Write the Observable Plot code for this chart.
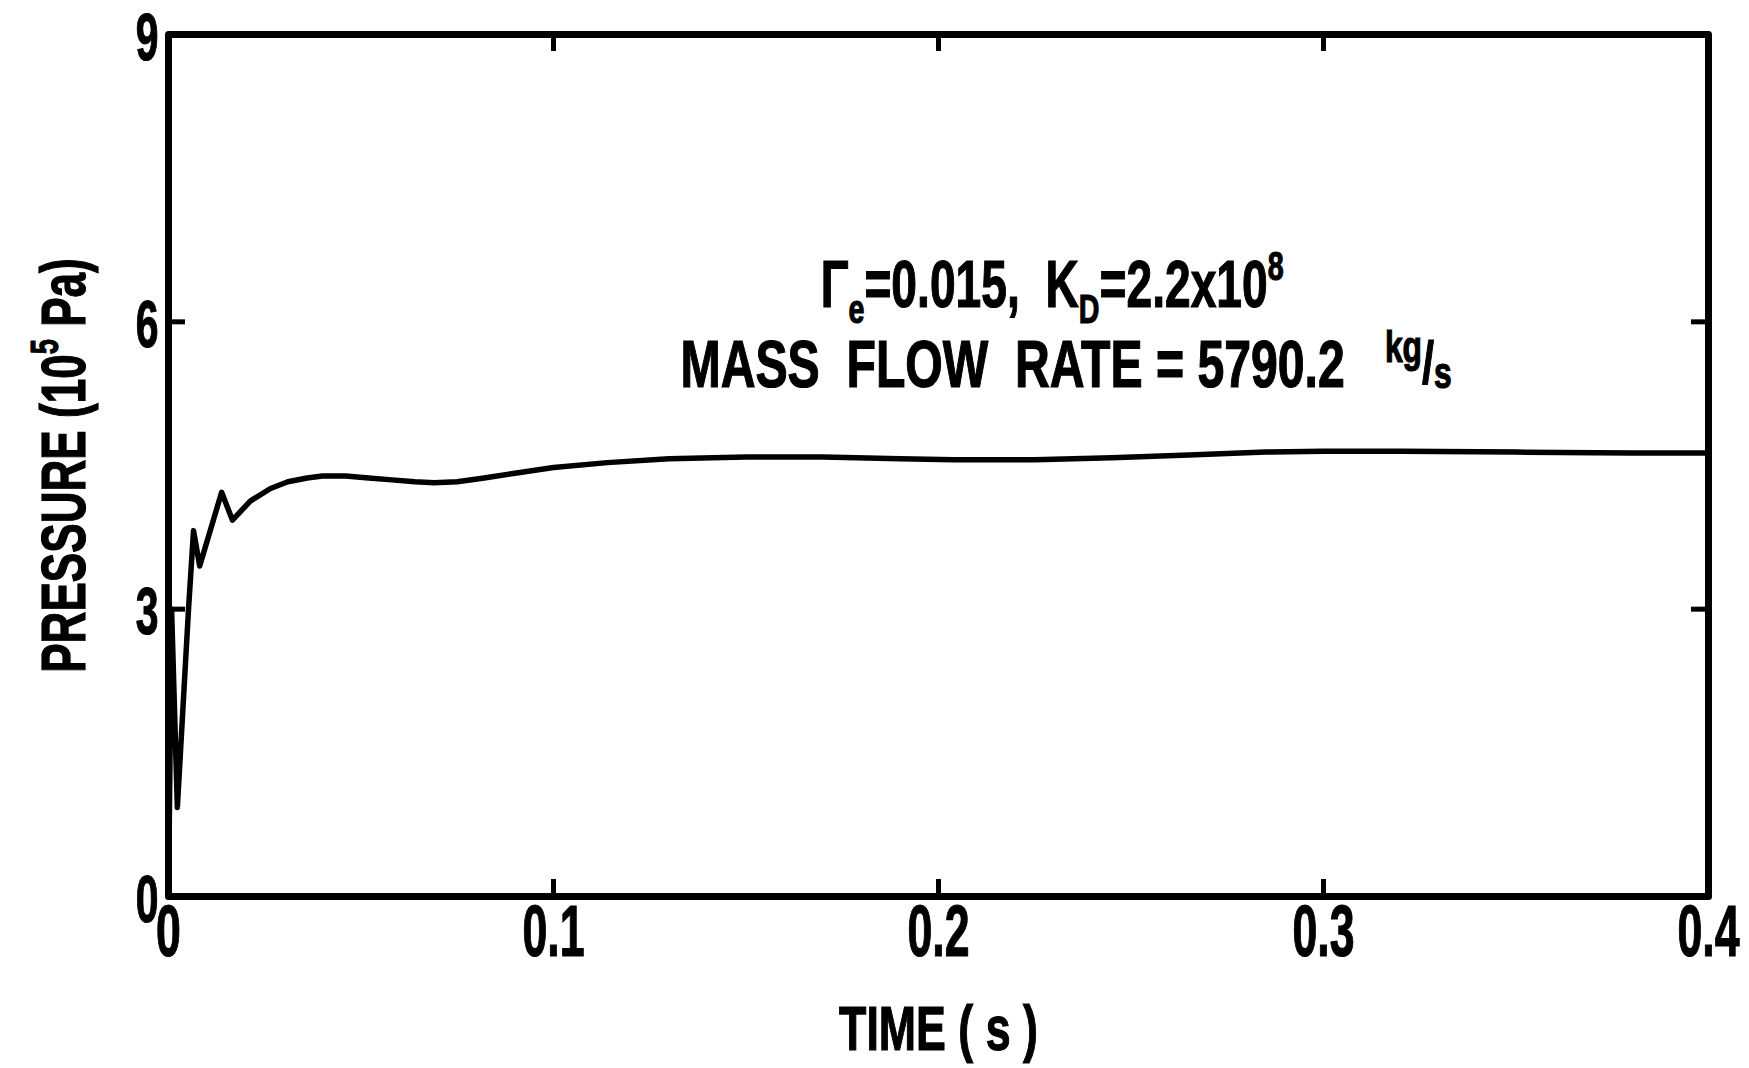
<!DOCTYPE html>
<html>
<head>
<meta charset="utf-8">
<script src="https://cdn.jsdelivr.net/npm/d3@7"></script>
<script src="https://cdn.jsdelivr.net/npm/@observablehq/plot@0.6"></script>
<style>
  body { margin: 0; background: #fff; }
  #chart svg text { font-weight: bold; white-space: pre; stroke: #000; stroke-width: 1.2px; paint-order: stroke; }
</style>
</head>
<body>
<div id="chart"></div>
<script>
// ---- data ----
const time = [0, 0.0008, 0.0023, 0.0052, 0.0065, 0.0081, 0.0138, 0.0166, 0.0213, 0.0265, 0.031, 0.036, 0.040, 0.046, 0.052, 0.058, 0.064, 0.069, 0.075, 0.082, 0.090, 0.100, 0.114, 0.130, 0.150, 0.170, 0.190, 0.204, 0.225, 0.245, 0.265, 0.285, 0.300, 0.320, 0.350, 0.380, 0.400];
const pressure = [0, 3.0, 0.93, 3.0, 3.82, 3.45, 4.22, 3.93, 4.13, 4.26, 4.33, 4.37, 4.39, 4.39, 4.37, 4.35, 4.33, 4.32, 4.33, 4.37, 4.42, 4.48, 4.53, 4.57, 4.59, 4.59, 4.57, 4.56, 4.56, 4.58, 4.61, 4.64, 4.65, 4.65, 4.64, 4.63, 4.63];

const xTicks = [0, 0.1, 0.2, 0.3, 0.4];
const xTickLabels = ["0", "0.1", "0.2", "0.3", "0.4"];
const yTicks = [0, 3, 6, 9];
const yTickLabels = ["0", "3", "6", "9"];
const innerTicksX = [0.1, 0.2, 0.3];
const innerTicksY = [3, 6];

const xTitle = "TIME ( s )";
const yTitleSegs = [["PRESSURE (10"], ["5", "sup"], [" Pa)"]];
const note1Segs = [["Γ"], ["e", "sub"], ["=0.015,  K"], ["D", "sub"], ["=2.2x10"], ["8", "sup"]];
const note2Segs = [["MASS  FLOW  RATE = 5790.2   "], ["kg", "kg"], ["/", "slash"], ["s", "s"]];
const noteX = [0.1694, 0.133];
const noteY = [6.15, 5.32];

// ---- layout ----
const W = 1749, H = 1068;
const mL = 168, mR = 41, mT = 34, mB = 172;
const frameW = W - mL - mR, frameH = H - mT - mB;
const tickLen = 17;

const plain = segs => segs.map(s => s[0]).join("");
const yTitle = plain(yTitleSegs);
const notes = [note1Segs, note2Segs].map((segs, i) => ({text: plain(segs), x: noteX[i], y: noteY[i]}));
const series = time.map((t, i) => ({t, p: pressure[i]}));

const plot = Plot.plot({
  width: W, height: H,
  marginLeft: mL, marginRight: mR, marginTop: mT, marginBottom: mB,
  style: {fontFamily: "'Liberation Sans', Arial, sans-serif", background: "#fff", color: "#000"},
  x: {domain: [0, 0.4], label: null},
  y: {domain: [0, 9], label: null},
  marks: [
    Plot.line(series, {x: "t", y: "p", stroke: "#000", strokeWidth: 5.5, strokeLinejoin: "round", strokeLinecap: "round"}),
    Plot.ruleX(innerTicksX, {x: d => d, insetTop: frameH - tickLen, stroke: "#000", strokeWidth: 5}),
    Plot.ruleX(innerTicksX, {x: d => d, insetBottom: frameH - tickLen, stroke: "#000", strokeWidth: 5}),
    Plot.ruleY(innerTicksY, {y: d => d, insetRight: frameW - tickLen, stroke: "#000", strokeWidth: 5}),
    Plot.ruleY(innerTicksY, {y: d => d, insetLeft: frameW - tickLen, stroke: "#000", strokeWidth: 5}),
    Plot.frame({stroke: "#000", strokeWidth: 7, strokeLinejoin: "round"}),
    Plot.axisX(xTicks, {anchor: "bottom", tickSize: 0, tickPadding: 8, fontSize: 72, label: null,
      tickFormat: d => xTickLabels[xTicks.indexOf(d)]}),
    Plot.axisY(yTicks, {anchor: "left", tickSize: 0, tickPadding: 10, fontSize: 66, dy: 4, label: null,
      tickFormat: d => yTickLabels[yTicks.indexOf(d)]}),
    Plot.text([xTitle], {frameAnchor: "bottom", text: d => d, textAnchor: "middle", dy: 133, fontSize: 63, lineAnchor: "middle"}),
    Plot.text([yTitle], {frameAnchor: "left", text: d => d, textAnchor: "middle", rotate: -90, dx: -104, fontSize: 63, lineAnchor: "middle"}),
    Plot.text(notes, {x: "x", y: "y", text: "text", textAnchor: "start", lineAnchor: "bottom", fontSize: 66})
  ]
});
document.getElementById("chart").append(plot);

// ---- rich text (sub/superscripts) ----
const kinds = {
  sub:   {size: 0.62, off: 0.24},
  sup:   {size: 0.62, off: -0.42},
  kg:    {size: 0.66, off: -0.38},
  slash: {size: 0.9, off: -0.06},
  s:     {size: 0.66, off: 0.02}
};
function richText(el, segs) {
  const fs = parseFloat(getComputedStyle(el).fontSize);
  el.textContent = "";
  let shift = 0;
  for (const [str, kind] of segs) {
    const ts = document.createElementNS("http://www.w3.org/2000/svg", "tspan");
    const k = kinds[kind] || {size: 1, off: 0};
    const target = k.off * fs;
    if (target !== shift) ts.setAttribute("dy", target - shift);
    shift = target;
    if (k.size !== 1) ts.setAttribute("font-size", k.size * fs);
    ts.textContent = str;
    el.appendChild(ts);
  }
}
const texts = Array.from(plot.querySelectorAll("text"));
const squeezeOf = new Map();
for (const segs of [yTitleSegs, note1Segs, note2Segs]) {
  const target = plain(segs);
  const el = texts.find(t => t.textContent === target);
  if (el) {
    richText(el, segs);
    squeezeOf.set(el, segs === note2Segs ? 0.73 : 0.7);
  }
}
// condensed look: squeeze every label horizontally about its own anchor
texts.forEach(t => {
  const isTick = xTickLabels.includes(t.textContent) || yTickLabels.includes(t.textContent);
  const s = squeezeOf.get(t) ?? (isTick ? 0.62 : 0.71);
  const tr = t.getAttribute("transform") || "";
  t.setAttribute("transform", (tr + " scale(" + s + ",1)").trim());
});
</script>
</body>
</html>
